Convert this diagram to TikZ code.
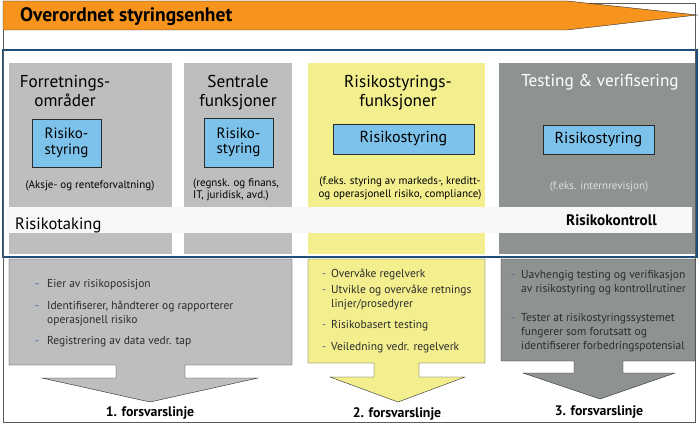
\documentclass[tikz,border=0pt]{standalone}
\usepackage{fontspec}
\setmainfont{PT Sans}
\usetikzlibrary{shapes}

\definecolor{bannerorange}{HTML}{F7941E}
\definecolor{lightcol}{HTML}{BCBEC0}
\definecolor{yellowcol}{HTML}{F3EF8F}
\definecolor{darkcol}{HTML}{8F938F}
\definecolor{boxblue}{HTML}{7DC2EA}
\definecolor{frameblue}{HTML}{1F4E7A}
\definecolor{bandwhite}{HTML}{F7F7F7}
\definecolor{dashblue}{HTML}{4F5FA0}
\definecolor{textgray}{HTML}{2B2B2B}
\definecolor{palegray}{HTML}{DDDDDD}

\begin{document}
\begin{tikzpicture}[x=1pt, y=-1pt,
  title/.style={anchor=north, align=center, inner sep=0pt, font=\fontsize{17.2}{19}\selectfont},
  riskbox/.style={draw=textgray, fill=boxblue, inner sep=0pt, align=center, font=\fontsize{16}{13.5}\selectfont},
  note/.style={inner sep=0pt, font=\fontsize{11}{12.5}\selectfont},
  item/.style={anchor=north west, inner sep=0pt, align=left, text=textgray, font=\fontsize{11.5}{14}\selectfont},
  dashmark/.style={item, text=dashblue},
  linelabel/.style={anchor=base, inner sep=0pt, font=\bfseries\fontsize{13.8}{15}\selectfont}
]
\useasboundingbox (0,0) rectangle (700,425);

%Draw columns
\foreach \l/\r/\c in {9/172/lightcol, 184/292/lightcol, 308/485/yellowcol, 499/697/darkcol} {
\fill[\c] (\l,63) rectangle (\r,254);
}

%Draw band
\fill[bandwhite] (7,207) rectangle (692,233);

%Draw frame
\draw[frameblue, line width=1.6pt] (3,50) rectangle (697,257);

%Draw defence lines
\draw[textgray, fill=lightcol] (9,259) -- (292,259) -- (292,365) -- (185,365) -- (185,378) -- (258,378) -- (150,402)
 -- (42,378) -- (116,378) -- (116,365) -- (9,365) -- cycle;
\draw[textgray, fill=yellowcol] (308,259) -- (485,259) -- (485,363) -- (419,363) -- (419,377) -- (465,377) -- (398,402)
 -- (330,377) -- (374,377) -- (374,363) -- (308,363) -- cycle;
\draw[textgray, fill=darkcol] (501,259) -- (695,259) -- (695,361) -- (623,361) -- (623,373) -- (675,373) -- (600,399)
 -- (523,373) -- (574,373) -- (574,361) -- (501,361) -- cycle;

%Draw outer frame
\draw[gray!70!black, thin] (3,3) rectangle (695,422);

%Draw banner
\draw[textgray, fill=bannerorange] (3,1) -- (567,1) -- (697,15) -- (567,30) -- (3,30) -- cycle;
\node[anchor=base west, inner sep=0pt, font=\bfseries\fontsize{19.5}{22}\selectfont] (head) at (20,22) {Overordnet styringsenhet};

%Column titles
\node[title] (t1) at (65,73.7) {\strut Forretnings-\\områder};
\node[title] (t2) at (238,73.7) {\strut Sentrale\\funksjoner};
\node[title] (t3) at (398,73.7) {\strut Risikostyrings-\\funksjoner};
\node[title, anchor=base, text=white] (t4) at (600,87) {Testing \& verifisering};

%Risk boxes
\node[riskbox, minimum width=69pt, minimum height=48pt, font=\fontsize{15}{15.5}\selectfont] (b1) at (66.5,143) {Risiko-\\styring};
\node[riskbox, minimum width=69pt, minimum height=49pt, font=\fontsize{15}{15.5}\selectfont] (b2) at (238.5,142.5) {Risiko-\\styring};
\node[riskbox, minimum width=141pt, minimum height=30pt] (b3) at (403.5,139) {Risikostyring};
\node[riskbox, minimum width=111pt, minimum height=29pt] (b4) at (598.5,139.5) {Risikostyring};

%Notes
\node[note, anchor=base] (s1) at (90,188) {(Aksje- og renteforvaltning)};
\node[note, anchor=north west, align=left, font=\fontsize{11}{12}\selectfont] (s2) at (193,177.6) {\strut(regnsk. og finans,\\IT, juridisk, avd.)};
\node[note, anchor=north, align=center, font=\fontsize{11}{13}\selectfont] (s3) at (400,174.9) {\strut(f.eks. styring av markeds-, kreditt-\\og operasjonell risiko, compliance)};
\node[note, anchor=base, text=palegray] (s4) at (599,189) {(f.eks. internrevisjon)};

%Band labels
\node[anchor=base west, inner sep=0pt, font=\fontsize{16.5}{18}\selectfont] (take) at (15,229) {Risikotaking};
\node[anchor=base east, inner sep=0pt, font=\bfseries\fontsize{15.2}{17}\selectfont] (ctrl) at (657,225) {Risikokontroll};

%Draw first line items
\foreach \y/\txt [count=\i] in {277/Eier av risikoposisjon, 299/{Identifiserer, håndterer og rapporterer\\operasjonell risiko}, 334/Registrering av data vedr. tap} {
\node[dashmark] (da\i) at (35,\y) {\strut-};
\node[item] (ia\i) at (47,\y) {\strut\txt};
}

%Draw second line items
\foreach \y/\txt [count=\i] in {267/Overvåke regelverk, 283/{Utvikle og overvåke retnings\\linjer/prosedyrer}, 318/Risikobasert testing, 340/Veiledning vedr. regelverk} {
\node[dashmark] (db\i) at (322,\y) {\strut-};
\node[item] (ib\i) at (331,\y) {\strut\txt};
}

%Draw third line items
\foreach \y/\txt [count=\i] in {268/{Uavhengig testing og verifikasjon\\av risikostyring og kontrollrutiner}, 311/{Tester at risikostyringssystemet\\fungerer som forutsatt og\\identifiserer forbedringspotensial}} {
\node[dashmark] (dc\i) at (511,\y) {\strut-};
\node[item] (ic\i) at (521,\y) {\strut\txt};
}

%Line labels
\node[linelabel] (f1) at (150,416) {1. forsvarslinje};
\node[linelabel] (f2) at (397,417) {2. forsvarslinje};
\node[linelabel] (f3) at (599,415) {3. forsvarslinje};

\end{tikzpicture}
\end{document}
